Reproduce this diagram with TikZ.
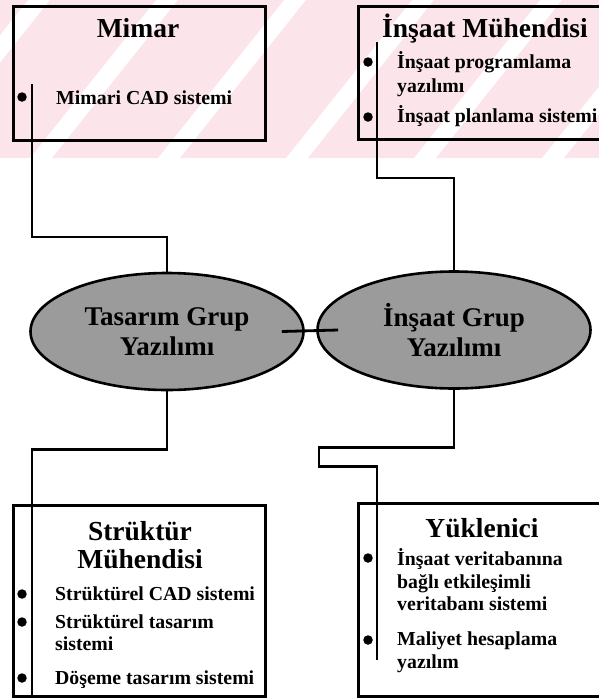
\documentclass[tikz,border=0pt]{standalone}
\usepackage{fontspec}
\setmainfont{Liberation Serif}
\usetikzlibrary{shapes.geometric,calc}
\definecolor{wm}{RGB}{252,229,234}
\definecolor{ellfill}{RGB}{155,155,155}
\begin{document}
\begin{tikzpicture}[x=1pt,y=-1pt,
  box/.style={draw=black,line width=3pt},
  conn/.style={draw=black,line width=2.8pt},
  bul/.style={circle,fill=black,inner sep=0pt,minimum size=9.5pt},
  ttl/.style={font=\fontsize{27.5}{30}\selectfont\bfseries,anchor=base,inner sep=0pt},
  itm/.style={font=\fontsize{19.8}{22}\selectfont\bfseries,anchor=base west,inner sep=0pt},
  ell/.style={ellipse,draw=black,line width=2.6pt,fill=ellfill,minimum width=273pt,minimum height=117pt,inner sep=0pt,font=\fontsize{27}{30}\selectfont\bfseries,align=center}
]
\useasboundingbox (0,0) rectangle (599,699);
\clip (0,0) rectangle (599,699);
% watermark
\begin{scope}
\clip (0,0) rectangle (599,158);
\foreach \a in {-226,-98,30,158,286,414,542} {
  \fill[wm] (\a+22,158) -- (\a+128,158) -- (\a+254,0) -- (\a+148,0) -- cycle;
}
\end{scope}
% boxes
\draw[box] (13,6) rectangle (265,140);
\draw[box] (358,6) rectangle (605,139);
\draw[box] (13,505) rectangle (265,696);
\draw[box] (358,503) rectangle (605,696);
% Mimar
\node[ttl] (tm) at (138,37) {Mimar};
\node[bul] (bm1) at (22,97) {};
\node[itm] (im1) at (56,104) {Mimari CAD sistemi};
\coordinate (m0) at (32,84);
% Insaat Muhendisi
\node[ttl] (ti) at (485,37) {İnşaat Mühendisi};
\node[bul] (bi1) at (368,62) {};
\node[itm] (ii1) at (397,68) {İnşaat programlama};
\node[itm] (ii2) at (397,92) {yazılımı};
\node[bul] (bi2) at (368,117) {};
\node[itm] (ii3) at (397,122) {İnşaat planlama sistemi};
\coordinate (i0) at (377,42);
% Struktur Muhendisi
\node[ttl] (ts1) at (140,540) {Strüktür};
\node[ttl] (ts2) at (140,568) {Mühendisi};
\node[bul] (bs1) at (22,594) {};
\node[itm] (is1) at (55,600) {Strüktürel CAD sistemi};
\node[bul] (bs2) at (22,622) {};
\node[itm] (is2) at (55,628) {Strüktürel tasarım};
\node[itm] (is3) at (55,650) {sistemi};
\node[bul] (bs3) at (22,678) {};
\node[itm] (is4) at (55,684) {Döşeme tasarım sistemi};
\coordinate (s0) at (32,695);
% Yuklenici
\node[ttl] (ty) at (482,537) {Yüklenici};
\node[bul] (by1) at (368,558) {};
\node[itm] (iy1) at (397,565) {İnşaat veritabanına};
\node[itm] (iy2) at (397,588) {bağlı etkileşimli};
\node[itm] (iy3) at (397,610) {veritabanı sistemi};
\node[bul] (by2) at (368,640) {};
\node[itm] (iy4) at (397,645) {Maliyet hesaplama};
\node[itm] (iy5) at (397,668) {yazılım};
\coordinate (y0) at (377,660);
% ellipses
\node[ell] (tds) at (167,331.5) {Tasarım Grup\\Yazılımı};
\node[ell] (ins) at (454,330) {İnşaat Grup\\Yazılımı};
% connectors
\draw[conn] (m0) -- ++(0,153) -| (tds.north);
\draw[conn] (i0) -- ++(0,136) -| (ins.north);
\draw[conn] (tds.south) -- ++(0,58) -| (s0);
\draw[conn] (ins.south) -- ++(0,58) -- ++(-135,0) -- ++(0,19) -| (y0);
\draw[conn] ($(tds.east)+(-23,0)$) -- ($(ins.west)+(22,0)$);
\end{tikzpicture}
\end{document}
